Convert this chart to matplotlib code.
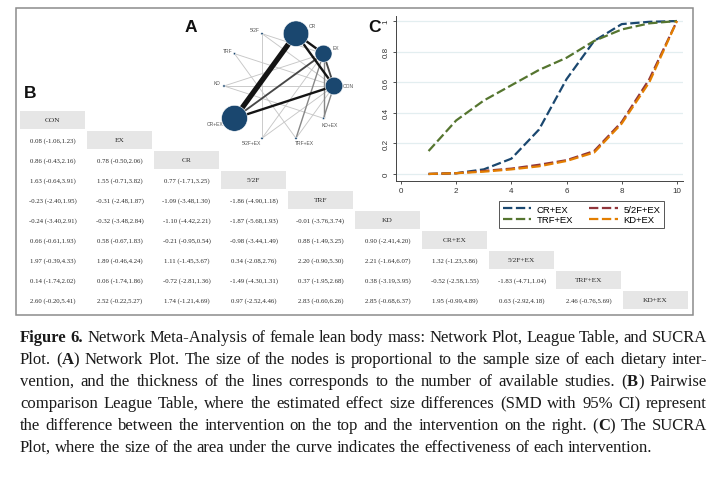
import matplotlib
matplotlib.use("Agg")
import matplotlib.pyplot as plt
from matplotlib.patches import Rectangle
import numpy as np

W, H = 726, 481
SERIF = ["Liberation Serif", "DejaVu Serif"]
SANS = ["Liberation Sans", "DejaVu Sans"]

# ---------------- data ----------------
treatments = ["CON", "EX", "CR", "5/2F", "TRF", "KD", "CR+EX", "5/2F+EX", "TRF+EX", "KD+EX"]
sample_sizes = [62, 58, 130, 1.2, 1.2, 1.2, 134, 1.2, 1.2, 1.2]
edge_from = ["CR", "CR", "CR", "EX", "CR+EX", "CR+EX", "EX", "CON", "CON", "EX",
             "KD", "5/2F", "5/2F", "5/2F", "TRF", "TRF", "5/2F+EX", "5/2F+EX", "TRF+EX", "TRF+EX"]
edge_to = ["CR+EX", "EX", "CON", "CON", "CON", "EX", "KD+EX", "KD+EX", "KD", "KD",
           "KD+EX", "5/2F+EX", "CON", "EX", "TRF+EX", "CON", "EX", "CON", "EX", "CON"]
edge_studies = [10, 4, 4, 3, 4, 3, 2, 2, 1, 1, 1, 1, 1, 1, 1, 1, 1, 1, 2, 1]

league_est = [
    [],
    [0.08],
    [0.86, 0.78],
    [1.63, 1.55, 0.77],
    [-0.23, -0.31, -1.09, -1.86],
    [-0.24, -0.32, -1.10, -1.87, -0.01],
    [0.66, 0.58, -0.21, -0.98, 0.88, 0.90],
    [1.97, 1.89, 1.11, 0.34, 2.20, 2.21, 1.32],
    [0.14, 0.06, -0.72, -1.49, 0.37, 0.38, -0.52, -1.83],
    [2.60, 2.52, 1.74, 0.97, 2.83, 2.85, 1.95, 0.63, 2.46],
]
league_lo = [
    [],
    [-1.06],
    [-0.43, -0.50],
    [-0.64, -0.71, -1.71],
    [-2.40, -2.48, -3.48, -4.90],
    [-3.40, -3.48, -4.42, -5.68, -3.76],
    [-0.61, -0.67, -0.95, -3.44, -1.49, -2.41],
    [-0.39, -0.46, -1.45, -2.08, -0.90, -1.64, -1.23],
    [-1.74, -1.74, -2.81, -4.30, -1.95, -3.19, -2.58, -4.71],
    [-0.20, -0.22, -1.21, -2.52, -0.60, -0.68, -0.99, -2.92, -0.76],
]
league_hi = [
    [],
    [1.23],
    [2.16, 2.06],
    [3.91, 3.82, 3.25],
    [1.95, 1.87, 1.30, 1.18],
    [2.91, 2.84, 2.21, 1.93, 3.74],
    [1.93, 1.83, 0.54, 1.49, 3.25, 4.20],
    [4.33, 4.24, 3.67, 2.76, 5.30, 6.07, 3.86],
    [2.02, 1.86, 1.36, 1.31, 2.68, 3.95, 1.55, 1.04],
    [5.41, 5.27, 4.69, 4.46, 6.26, 6.37, 4.89, 4.18, 5.69],
]

ranks = [1, 2, 3, 4, 5, 6, 7, 8, 9, 10]
sucra_labels = ["CR+EX", "5/2F+EX", "TRF+EX", "KD+EX"]
sucra_cr_ex = [0.0, 0.005, 0.03, 0.10, 0.29, 0.62, 0.87, 0.98, 0.995, 1.0]
sucra_52f_ex = [0.0, 0.005, 0.02, 0.035, 0.06, 0.09, 0.15, 0.34, 0.62, 1.0]
sucra_trf_ex = [0.15, 0.35, 0.48, 0.58, 0.68, 0.76, 0.87, 0.945, 0.985, 1.0]
sucra_kd_ex = [0.0, 0.005, 0.015, 0.03, 0.05, 0.085, 0.14, 0.33, 0.60, 1.0]

caption_lines = [
    "**Figure 6.** Network Meta-Analysis of female lean body mass: Network Plot, League Table, and SUCRA",
    "Plot. (**A**) Network Plot. The size of the nodes is proportional to the sample size of each dietary inter-",
    "vention, and the thickness of the lines corresponds to the number of available studies. (**B**) Pairwise",
    "comparison League Table, where the estimated effect size differences (SMD with 95% CI) represent",
    "the difference between the intervention on the top and the intervention on the right. (**C**) The SUCRA",
    "Plot, where the size of the area under the curve indicates the effectiveness of each intervention.",
]

# ---------------- figure ----------------
fig = plt.figure(figsize=(W / 100, H / 100), dpi=100)
fig.patch.set_facecolor("white")


def add_ax(x0, y0, x1, y1):
    return fig.add_axes([x0 / W, 1 - y1 / H, (x1 - x0) / W, (y1 - y0) / H])


# outer frame
fig.patches.append(Rectangle((16 / W, 1 - 316 / H), (693 - 16) / W, (316 - 9) / H,
                             transform=fig.transFigure, fill=False, ec="#8c8c8c", lw=1.1))

# panel letters
for letter, (px, py) in zip("ABC", [(191, 27), (30, 94), (375, 27)]):
    fig.text(px / W, 1 - py / H, letter, fontsize=12.5, fontweight="bold",
             family=SANS, ha="center", va="center", color="#111")

# ---------------- A: network ----------------
axn = add_ax(179, 17, 379, 157)
axn.set_xlim(-1.818, 1.818)
axn.set_ylim(-1.273, 1.273)
axn.axis("off")
ang = np.deg2rad(36 * np.arange(len(treatments)))
pos = {t: (np.cos(a), np.sin(a)) for t, a in zip(treatments, ang)}

order = np.argsort(edge_studies)
for k in order:
    a, b, n = edge_from[k], edge_to[k], edge_studies[k]
    lw = 0.65 + 0.35 * (n - 1)
    g = max(0.08, 0.78 - 0.25 * (n - 1))
    axn.plot([pos[a][0], pos[b][0]], [pos[a][1], pos[b][1]], color=(g, g, g),
             lw=lw, solid_capstyle="butt", zorder=1 + n)
axn.scatter([pos[t][0] for t in treatments], [pos[t][1] for t in treatments],
            s=[2.6 * s for s in sample_sizes], color="#1a476f", edgecolor="white",
            linewidth=0.4, zorder=20)

label_off = {  # px offsets, style only
    "CON": (9, 0, "left"), "EX": (9, -6, "left"), "CR": (13, -8, "left"),
    "5/2F": (-2, -4, "right"), "TRF": (-2, -3, "right"), "KD": (-3, -3, "right"),
    "CR+EX": (-11, 5, "right"), "5/2F+EX": (-1, 4, "right"), "TRF+EX": (-1, 4, "left"),
    "KD+EX": (-2, 6, "left"),
}
for t in treatments:
    dx, dy, ha = label_off[t]
    axn.annotate(t, pos[t], xytext=(dx * 0.72, -dy * 0.72), textcoords="offset points",
                 fontsize=3.6, family=SANS, color="#555", ha=ha, va="center", zorder=25)

# ---------------- B: league table ----------------
axt = add_ax(19, 111, 689, 311)
axt.set_xlim(0, 10)
axt.set_ylim(10, 0)
axt.axis("off")
for i, t in enumerate(treatments):
    axt.add_patch(Rectangle((i + 0.015, i + 0.05), 0.97, 0.9, fc="#e6e6e6", ec="none"))
    axt.text(i + 0.5, i + 0.5, t, ha="center", va="center", fontsize=5.3,
             family=SERIF, color="#2a2a2a")
    for j in range(i):
        s = "{:.2f} ({:.2f},{:.2f})".format(league_est[i][j], league_lo[i][j], league_hi[i][j])
        axt.text(j + 0.5, i + 0.5, s, ha="center", va="center", fontsize=4.9,
                 family=SERIF, color="#2a2a2a")

# ---------------- C: SUCRA ----------------
axc = add_ax(396, 17, 683, 182)
axc.set_xlim(-0.18, 10.22)
axc.set_ylim(-0.046, 1.033)
colors = ["#1a476f", "#90353b", "#55752f", "#e37e00"]
series = [sucra_cr_ex, sucra_52f_ex, sucra_trf_ex, sucra_kd_ex]
lines = []
for lab, col, ys in zip(sucra_labels, colors, series):
    ln, = axc.plot(ranks, ys, color=col, lw=1.6, linestyle=(0, (4.2, 1.6)), label=lab)
    lines.append(ln)
axc.set_xticks([0, 2, 4, 6, 8, 10])
axc.set_yticks([0, 0.2, 0.4, 0.6, 0.8, 1.0])
axc.set_yticklabels(["0", "0.2", "0.4", "0.6", "0.8", "1"], rotation=90, va="center")
axc.tick_params(labelsize=5.8, length=2.5, width=0.6, pad=2, colors="#333")
for lab in axc.get_xticklabels() + axc.get_yticklabels():
    lab.set_family(SANS)
axc.yaxis.grid(True, color="#e3eef0", lw=0.9)
axc.set_axisbelow(True)
for sp in ["top", "right"]:
    axc.spines[sp].set_visible(False)
for sp in ["left", "bottom"]:
    axc.spines[sp].set_color("#444")
    axc.spines[sp].set_linewidth(0.7)

leg = fig.legend([lines[0], lines[2], lines[1], lines[3]],
                 [sucra_labels[0], sucra_labels[2], sucra_labels[1], sucra_labels[3]],
                 ncol=2, loc="center", bbox_to_anchor=(581.5 / W, 1 - 215.5 / H),
                 bbox_transform=fig.transFigure, fancybox=False, framealpha=1,
                 edgecolor="#555", handlelength=3.0, columnspacing=1.7,
                 borderpad=0.4, labelspacing=0.2, handletextpad=0.6, borderaxespad=0,
                 prop={"family": SANS, "size": 6.8})
leg.get_frame().set_linewidth(0.7)

# ---------------- caption (justified) ----------------
renderer = fig.canvas.get_renderer()


def parse(line):
    bold = False
    words = []
    for w in line.split(" "):
        parts = w.split("**")
        segs = []
        for k, p in enumerate(parts):
            if k > 0:
                bold = not bold
            if p:
                segs.append((p, bold))
        words.append(segs)
    return words


def measure(size):
    out = []
    for line in caption_lines:
        words = parse(line)
        items = []
        for segs in words:
            ts = []
            for p, b in segs:
                t = fig.text(0, 0, p, fontsize=size, family=SERIF,
                             fontweight="bold" if b else "normal", color="#1a1a1a", va="baseline")
                ts.append((t, t.get_window_extent(renderer).width))
            items.append(ts)
        out.append(items)
    return out


x0c, x1c = 20, 707
probe = measure(10)
maxw = 0
for items in probe:
    tot = sum(w for ts in items for _, w in ts) + 2.8 * (len(items) - 1)
    maxw = max(maxw, tot)
for items in probe:
    for ts in items:
        for t, _ in ts:
            t.remove()
size = 10 * 0.99 * (x1c - x0c) / maxw
size = min(size, 13)
meas = measure(size)
space = 0.25 * size * 100 / 72
for li, items in enumerate(meas):
    y = 342 + 22 * li
    total = sum(w for ts in items for _, w in ts)
    if li < len(meas) - 1:
        gap = (x1c - x0c - total) / (len(items) - 1)
    else:
        gap = space
    x = x0c
    for ts in items:
        for t, w in ts:
            t.set_position((x / W, 1 - y / H))
            x += w
        x += gap

fig.savefig("out.png", dpi=100, facecolor="white")
